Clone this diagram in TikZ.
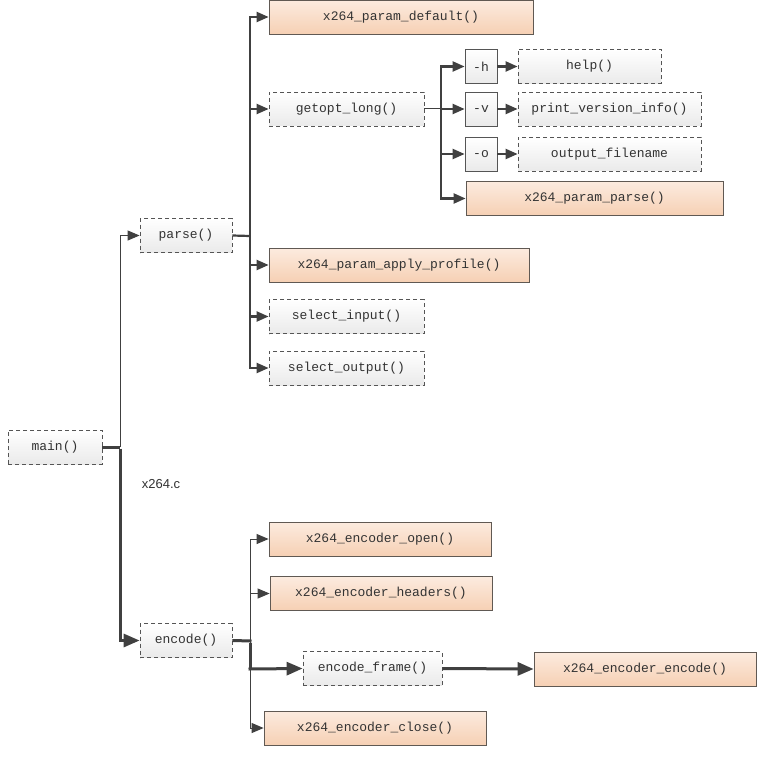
\documentclass[tikz,border=0pt]{standalone}
\usepackage{fontspec}
\setmainfont{Liberation Sans}
\newfontfamily\codefont{Liberation Mono}
\usetikzlibrary{arrows.meta,shadings}
\definecolor{linec}{HTML}{404040}
\definecolor{bordc}{HTML}{555555}
\definecolor{orTop}{HTML}{FCEBDF}
\definecolor{orBot}{HTML}{F6D0B4}
\definecolor{grTop}{HTML}{FFFFFF}
\definecolor{grBot}{HTML}{EAEAEA}
\tikzset{
  basebox/.style={minimum height=34pt, inner sep=0pt, font=\codefont\fontsize{13}{15}\selectfont, text=black!80, draw=bordc, line width=0.8pt},
  fnbox/.style={basebox, dash pattern=on 4pt off 3pt, top color=grTop, bottom color=grBot},
  orbox/.style={basebox, top color=orTop, bottom color=orBot, draw=bordc!90!brown},
  optbox/.style={basebox, top color=grTop, bottom color=grBot},
  thin1/.style={draw=linec, line width=1pt},
  thick2/.style={draw=linec, line width=2.2pt},
  thick3/.style={draw=linec, line width=3pt},
  arrA/.style={-{Triangle[length=12pt,width=10pt]}},
  arrB/.style={-{Triangle[length=16pt,width=13pt]}},
}
\begin{document}
\begin{tikzpicture}[x=1pt,y=-1pt]
\useasboundingbox (0,0) rectangle (760,770);
\fill[white] (0,0) rectangle (760,770);
% nodes
\node[orbox, minimum width=264pt] (pdef) at (401,17) {x264\_param\_default()};
\node[fnbox, minimum width=155pt] (gol) at (346.5,109) {getopt\_long()};
\node[optbox, minimum width=32pt] (oh) at (481,66.5) {-h};
\node[fnbox, minimum width=143pt] (help) at (589.5,66.5) {help()};
\node[optbox, minimum width=32pt] (ov) at (481,109) {-v};
\node[fnbox, minimum width=183pt] (pvi) at (609.5,109) {print\_version\_info()};
\node[optbox, minimum width=32pt] (oo) at (481,154) {-o};
\node[fnbox, minimum width=183pt] (ofn) at (609.5,154) {output\_filename};
\node[orbox, minimum width=257pt] (ppar) at (594.5,198.5) {x264\_param\_parse()};
\node[fnbox, minimum width=92pt] (parse) at (186,235.5) {parse()};
\node[orbox, minimum width=260pt] (prof) at (399,265) {x264\_param\_apply\_profile()};
\node[fnbox, minimum width=155pt] (sin) at (346.5,316.5) {select\_input()};
\node[fnbox, minimum width=155pt] (sout) at (346.5,368) {select\_output()};
\node[fnbox, minimum width=94pt] (main) at (55,447) {main()};
\node[font=\fontsize{13}{15}\selectfont, text=black!80] (lbl) at (161,484) {x264.c};
\node[orbox, minimum width=222pt] (eopen) at (380,539) {x264\_encoder\_open()};
\node[orbox, minimum width=222pt] (ehead) at (381,593.5) {x264\_encoder\_headers()};
\node[fnbox, minimum width=92pt] (enc) at (186,640.5) {encode()};
\node[fnbox, minimum width=139pt] (eframe) at (372.5,668.5) {encode\_frame()};
\node[orbox, minimum width=222pt] (eenc) at (645,669) {x264\_encoder\_encode()};
\node[orbox, minimum width=222pt] (eclose) at (375,728) {x264\_encoder\_close()};
% junctions
\coordinate (jm) at (120,447);
\coordinate (jp) at (250,236);
\coordinate (jg) at (441,109);
\coordinate (je) at (250,641);
\coordinate (jf) at (250,669);
% main
\draw[thick3] (main.east) -- (jm);
\draw[thin1, arrA] (jm) |- (parse.west);
\draw[thick3, arrB] ([yshift=-1.5pt]jm) |- (enc.west);
% parse
\draw[thick2] (parse.east) -- (jp);
\draw[thick2, arrA] (jp) |- (pdef.west);
\draw[thick2, arrA] (jp) |- (gol.west);
\draw[thick2, arrA] (jp) |- (prof.west);
\draw[thick2, arrA] (jp) |- (sin.west);
\draw[thick2, arrA] (jp) |- (sout.west);
% getopt
\draw[thin1] (gol.east) -- (jg);
\draw[thick2, arrA] (jg) |- (oh.west);
\draw[thick2, arrA] (jg) -- (ov.west);
\draw[thick2, arrA] (jg) |- (oo.west);
\draw[thick2, arrA] (jg) |- (ppar.west);
\draw[thick2, arrA] (oh) -- (help);
\draw[thick2, arrA] (ov) -- (pvi);
\draw[thick2, arrA] (oo) -- (ofn);
% encode
\draw[thick3] (enc.east) -- ([xshift=1.5pt]je);
\draw[thin1, arrA] (je) |- (eopen.west);
\draw[thin1, arrA] (je) |- (ehead.west);
\draw[thin1, arrA] (je) |- (eclose.west);
\draw[thick3] ([yshift=-1.5pt]je) -- (jf);
\draw[thick3, arrB] ([xshift=-1.5pt]jf) -- (eframe.west);
\draw[thick3, arrB] (eframe.east) -- (eenc.west);
\end{tikzpicture}
\end{document}
